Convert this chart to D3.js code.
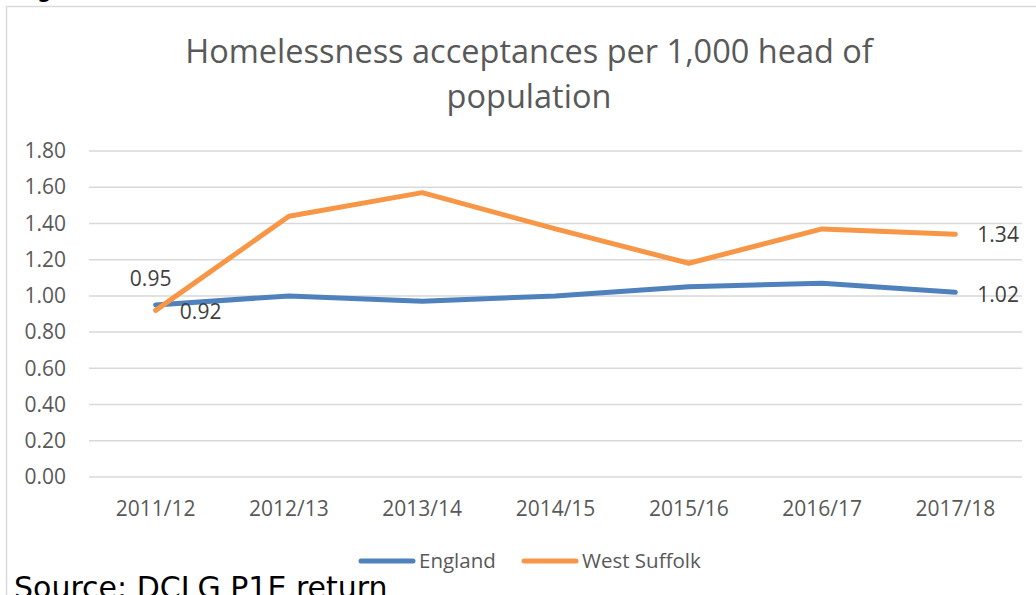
<!DOCTYPE html>
<html>
<head>
<meta charset="utf-8">
<script src="https://cdn.jsdelivr.net/npm/d3@7"></script>
<style>
  body { margin: 0; background: #fff; overflow: hidden; }
  svg { display: block; }
</style>
</head>
<body>
<div id="vis"></div>
<script>
// Data
const years = ['2011/12', '2012/13', '2013/14', '2014/15', '2015/16', '2016/17', '2017/18'];
const england = [0.95, 1.00, 0.97, 1.00, 1.05, 1.07, 1.02];
const westSuffolk = [0.92, 1.44, 1.57, 1.37, 1.18, 1.37, 1.34];
const yTicks = [0, 0.2, 0.4, 0.6, 0.8, 1.0, 1.2, 1.4, 1.6, 1.8];
const seriesNames = ['England', 'West Suffolk'];
const colors = ['#4f81bd', '#f79646'];

const W = 1036, H = 595;
const margin = { top: 151, right: 14, bottom: 118, left: 89 };
const width = 1022 - margin.left;
const height = 477 - margin.top;
const textColor = '#595959';
const font = '"Open Sans", sans-serif';
const tickSize = '21px';

const svg = d3.select('#vis')
    .append('svg')
    .attr('width', W)
    .attr('height', H);

// chart frame
svg.append('rect')
    .attr('x', 6.5).attr('y', 6.5)
    .attr('width', 1040).attr('height', 600)
    .attr('fill', 'none')
    .attr('stroke', '#d9d9d9')
    .attr('stroke-width', 1.5);

// bit of the surrounding document text peeking in at the top
svg.append('text')
    .attr('x', 16).attr('y', -4)
    .style('font-family', '"DejaVu Sans", sans-serif')
    .style('font-size', '26px')
    .attr('fill', '#000')
    .text('Figure');

const g = svg.append('g')
    .attr('transform', `translate(${margin.left},${margin.top})`);

const xScale = d3.scaleBand().domain(years).range([0, width]);
const yScale = d3.scaleLinear().domain([0, 1.8]).range([height, 0]);

// gridlines
g.append('g')
    .selectAll('line')
    .data(yTicks)
    .join('line')
    .attr('x1', 0).attr('x2', width)
    .attr('y1', d => yScale(d)).attr('y2', d => yScale(d))
    .attr('stroke', '#d9d9d9')
    .attr('stroke-width', 1.5);

// y axis labels
const yAxis = d3.axisLeft(yScale).tickValues(yTicks).tickFormat(d3.format('.2f')).tickSize(0).tickPadding(23);
g.append('g')
    .attr('class', 'axis y-axis')
    .call(yAxis)
    .call(s => s.select('.domain').remove())
    .selectAll('text')
    .style('font-family', font)
    .style('font-size', tickSize)
    .attr('fill', textColor);

// x axis labels
const xAxis = d3.axisBottom(xScale).tickSize(0).tickPadding(24);
g.append('g')
    .attr('class', 'axis x-axis')
    .attr('transform', `translate(0,${height})`)
    .call(xAxis)
    .call(s => s.select('.domain').remove())
    .selectAll('text')
    .style('font-family', font)
    .style('font-size', tickSize)
    .attr('fill', textColor);

// lines
const cx = i => xScale(years[i]) + xScale.bandwidth() / 2;
const line = d3.line()
    .x((d, i) => cx(i))
    .y(d => yScale(d));

[england, westSuffolk].forEach((vals, k) => {
    g.append('path')
        .datum(vals)
        .attr('fill', 'none')
        .attr('stroke', colors[k])
        .attr('stroke-width', 5)
        .attr('stroke-linejoin', 'round')
        .attr('stroke-linecap', 'round')
        .attr('d', line);
});

// data labels on first and last points
const labels = [
    { v: england[0], x: cx(0) - 5, y: yScale(england[0]) - 19, anchor: 'middle' },
    { v: westSuffolk[0], x: cx(0) + 45, y: yScale(westSuffolk[0]) + 9, anchor: 'middle' },
    { v: westSuffolk[6], x: cx(6) + 22, y: yScale(westSuffolk[6]) + 8, anchor: 'start' },
    { v: england[6], x: cx(6) + 22, y: yScale(england[6]) + 10, anchor: 'start' }
];
g.selectAll('.dlabel')
    .data(labels)
    .join('text')
    .attr('class', 'dlabel')
    .attr('x', d => d.x)
    .attr('y', d => d.y)
    .attr('text-anchor', d => d.anchor)
    .style('font-family', font)
    .style('font-size', tickSize)
    .attr('fill', '#404040')
    .text(d => d3.format('.2f')(d.v));

// title
const title = svg.append('text')
    .attr('text-anchor', 'middle')
    .style('font-family', font)
    .style('font-size', '32.5px')
    .attr('fill', textColor);
title.append('tspan').attr('x', 529).attr('y', 63).text('Homelessness acceptances per 1,000 head of');
title.append('tspan').attr('x', 529).attr('y', 108).text('population');

// legend
const legend = svg.append('g');
const legendItems = [
    { name: seriesNames[0], color: colors[0], x0: 361 },
    { name: seriesNames[1], color: colors[1], x0: 524 }
];
legendItems.forEach(d => {
    legend.append('line')
        .attr('x1', d.x0).attr('x2', d.x0 + 52)
        .attr('y1', 561).attr('y2', 561)
        .attr('stroke', d.color)
        .attr('stroke-width', 5)
        .attr('stroke-linecap', 'round');
    legend.append('text')
        .attr('x', d.x0 + 58).attr('y', 568)
        .style('font-family', font)
        .style('font-size', '20.5px')
        .attr('fill', textColor)
        .text(d.name);
});

// source note
svg.append('text')
    .attr('x', 14).attr('y', 598)
    .style('font-family', '"DejaVu Sans", sans-serif')
    .style('font-size', '30px')
    .attr('fill', '#000')
    .text('Source: DCLG P1E return');
</script>
</body>
</html>
